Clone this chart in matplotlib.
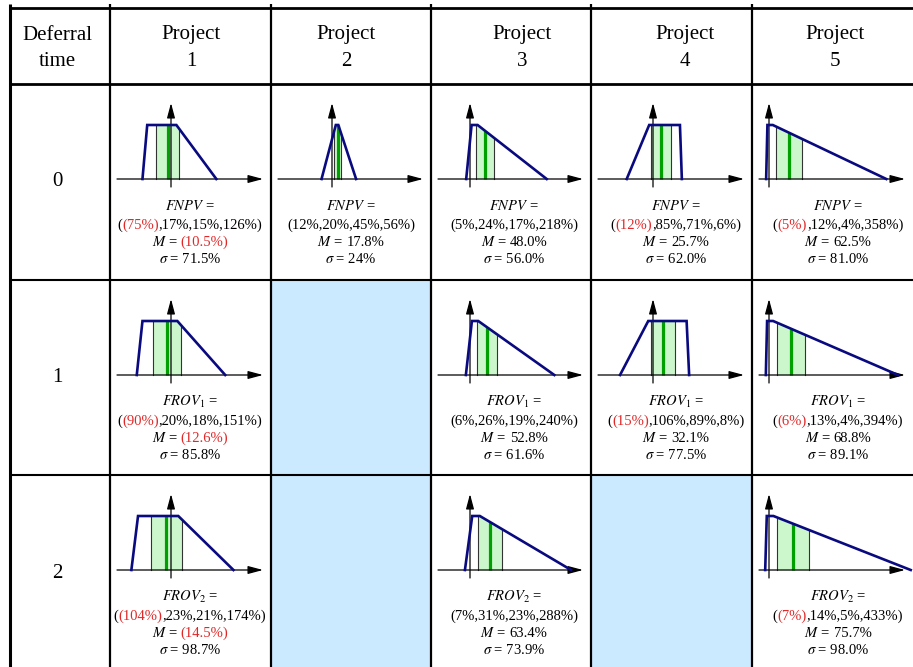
import numpy as np
import matplotlib
matplotlib.use("Agg")
import matplotlib.pyplot as plt
from matplotlib.patches import Rectangle

plt.rcParams.update({"font.family": "serif",
                     "font.serif": ["Liberation Serif", "DejaVu Serif"],
                     "mathtext.fontset": "stix"})

# ---- table content -------------------------------------------------------
projects = ["1", "2", "3", "4", "5"]
deferral = ["0", "1", "2"]
row_names = ["FNPV", "FROV_1", "FROV_2"]

# trapezoidal fuzzy numbers (a1, a2, alpha, beta) in %, None = not available
fnpv = [(-75, 17, 15, 126), (12, 20, 45, 56), (5, 24, 17, 218),
        (-12, 85, 71, 6), (-5, 12, 4, 358)]
frov1 = [(-90, 20, 18, 151), None, (6, 26, 19, 240),
         (-15, 106, 89, 8), (-6, 13, 4, 394)]
frov2 = [(-104, 23, 21, 174), None, (7, 31, 23, 288),
         None, (-7, 14, 5, 433)]

fnpv_mean = ["-10.5", "17.8", "48.0", "25.7", "62.5"]
frov1_mean = ["-12.6", None, "52.8", "32.1", "68.8"]
frov2_mean = ["-14.5", None, "63.4", None, "75.7"]

fnpv_sigma = ["71.5", "24", "56.0", "62.0", "81.0"]
frov1_sigma = ["85.8", None, "61.6", "77.5", "89.1"]
frov2_sigma = ["98.7", None, "73.9", None, "98.0"]

params = [fnpv, frov1, frov2]
means = [fnpv_mean, frov1_mean, frov2_mean]
sigmas = [fnpv_sigma, frov1_sigma, frov2_sigma]

# ---- layout (pixels) -------------------------------------------------------
W, H = 913, 667
COL_X = [10, 110, 271, 431, 591, 752, 913]
ROW_Y = [8, 84, 280, 475, 667]
ORIGIN_X = [171, 332, 470, 653, 769]
TEXT_X = [190, 351, 514, 676, 838]
HEAD_X = [191, 346, 522, 685, 835]
SCALE = 0.317      # px per percent
PEAK = 54          # px height of membership 1

NAVY = "#0a0a80"
GREEN = "#00a000"
SHADE = "#ccf7cc"
RED = "#e02828"
BLUE_CELL = "#cceaff"

fig = plt.figure(figsize=(W / 100, H / 100), dpi=100)
grid = fig.add_axes([0, 0, 1, 1])
grid.set_xlim(0, W)
grid.set_ylim(H, 0)
grid.axis("off")

# empty cells
for r in range(3):
    for c in range(5):
        if params[r][c] is None:
            grid.add_patch(Rectangle((COL_X[c + 1], ROW_Y[r + 1]),
                                     COL_X[c + 2] - COL_X[c + 1],
                                     ROW_Y[r + 2] - ROW_Y[r + 1],
                                     facecolor=BLUE_CELL, edgecolor="none", zorder=0))

# table rules
grid.hlines(ROW_Y[:2], COL_X[0] - 1, W, color="black", lw=2.0)
grid.hlines(ROW_Y[2:4], COL_X[0] - 1, W, color="black", lw=1.5)
grid.vlines(COL_X[0], 4, H, color="black", lw=2.2)
grid.vlines(COL_X[1:-1], 4, H, color="black", lw=1.6)

# headers
grid.text(57, 35, "Deferral", fontsize=15, ha="center", va="center")
grid.text(57, 61, "time", fontsize=15, ha="center", va="center")
for x, p in zip(HEAD_X, projects):
    grid.text(x, 35, "Project", fontsize=15, ha="center", va="center")
    grid.text(x, 61, p, fontsize=15, ha="center", va="center")
for r, d in enumerate(deferral):
    grid.text(57, ROW_Y[r + 1] + 98, d, fontsize=15, ha="center", va="center")

renderer = fig.canvas.get_renderer()


def rich(xc, yb, pieces, size=10.5):
    """Centre a line made of differently coloured pieces on xc.
    Each piece is (text, colour) or (text, colour, gap_after_px)."""
    items, gaps = [], []
    for pc in pieces:
        items.append(grid.text(0, yb, pc[0], color=pc[1], fontsize=size,
                               ha="left", va="baseline"))
        gaps.append(pc[2] if len(pc) > 2 else 0)
    widths = [t.get_window_extent(renderer).width + g for t, g in zip(items, gaps)]
    x = xc - sum(widths) / 2
    for t, w in zip(items, widths):
        t.set_x(x)
        x += w


def pct(v):
    v = float(v)
    if v < 0:
        return (f"({abs(v):g}%)", RED)
    return (f"{v:g}%", "black")


def mean_piece(s):
    if s.startswith("-"):
        return ("(" + s[1:] + "%)", RED)
    return (s + "%", "black")


def membership(x, a1, a2, al, be):
    return np.interp(x, [a1 - al, a1, a2, a2 + be], [0, 1, 1, 0], left=0, right=0)


for r in range(3):
    top = ROW_Y[r + 1]
    base = top + 95
    for c in range(5):
        p = params[r][c]
        if p is None:
            continue
        a1, a2, al, be = p
        m = float(means[r][c])
        s = float(sigmas[r][c])
        left, right = COL_X[c + 1], COL_X[c + 2]
        org = ORIGIN_X[c]

        axl, axr, axt, axb = left + 3, right - 3, base - 82, base + 12
        ax = fig.add_axes([axl / W, 1 - axb / H, (axr - axl) / W, (axb - axt) / H])
        ax.set_xlim((axl - org) / SCALE, (axr - org) / SCALE)
        ax.set_ylim(-(axb - base) / PEAK, (base - axt) / PEAK)
        ax.axis("off")

        # band of one sigma around the mean, under the membership curve
        lo, hi = m - s / 2, m + s / 2
        xs = np.linspace(lo, hi, 300)
        ax.fill_between(xs, 0, membership(xs, *p), color=SHADE, lw=0, zorder=1)
        for xb in (lo, hi):
            ax.plot([xb, xb], [0, membership(xb, *p)], color="#333333", lw=0.8, zorder=2)
        ax.plot([m, m], [0, membership(m, *p)], color=GREEN, lw=2.3, zorder=3,
                solid_capstyle="butt")

        # axes with arrow heads
        arrow = dict(arrowstyle="-|>,head_length=0.9,head_width=0.24",
                     color="black", lw=0.9, mutation_scale=10, shrinkA=0, shrinkB=0)
        ax.annotate("", xy=((right - 8 - org) / SCALE, 0),
                    xytext=((left + 7 - org) / SCALE, 0), arrowprops=arrow, zorder=4)
        ax.annotate("", xy=(0, 76 / PEAK), xytext=(0, -8 / PEAK),
                    arrowprops=arrow, zorder=4)

        ax.plot([a1 - al, a1, a2, a2 + be], [0, 1, 1, 0], color=NAVY, lw=1.9,
                zorder=5, clip_on=False, solid_joinstyle="miter")

        # labels below the plot
        xc = TEXT_X[c]
        rich(xc, top + 126, [(f"${row_names[r]}$ =", "black")])
        line = [("(", "black")]
        for i, v in enumerate(p):
            if i:
                line.append((",", "black"))
            line.append(pct(v))
        line.append((")", "black"))
        merged = []
        for txt, col in line:
            if merged and merged[-1][1] == col:
                merged[-1] = (merged[-1][0] + txt, col)
            else:
                merged.append((txt, col))
        rich(xc, top + 145, merged)
        rich(xc, top + 162, [("$M$ =", "black", 3.5), mean_piece(means[r][c])])
        rich(xc, top + 179, [(r"$\sigma$ = " + sigmas[r][c] + "%", "black")])

fig.savefig("out.png", dpi=100)
